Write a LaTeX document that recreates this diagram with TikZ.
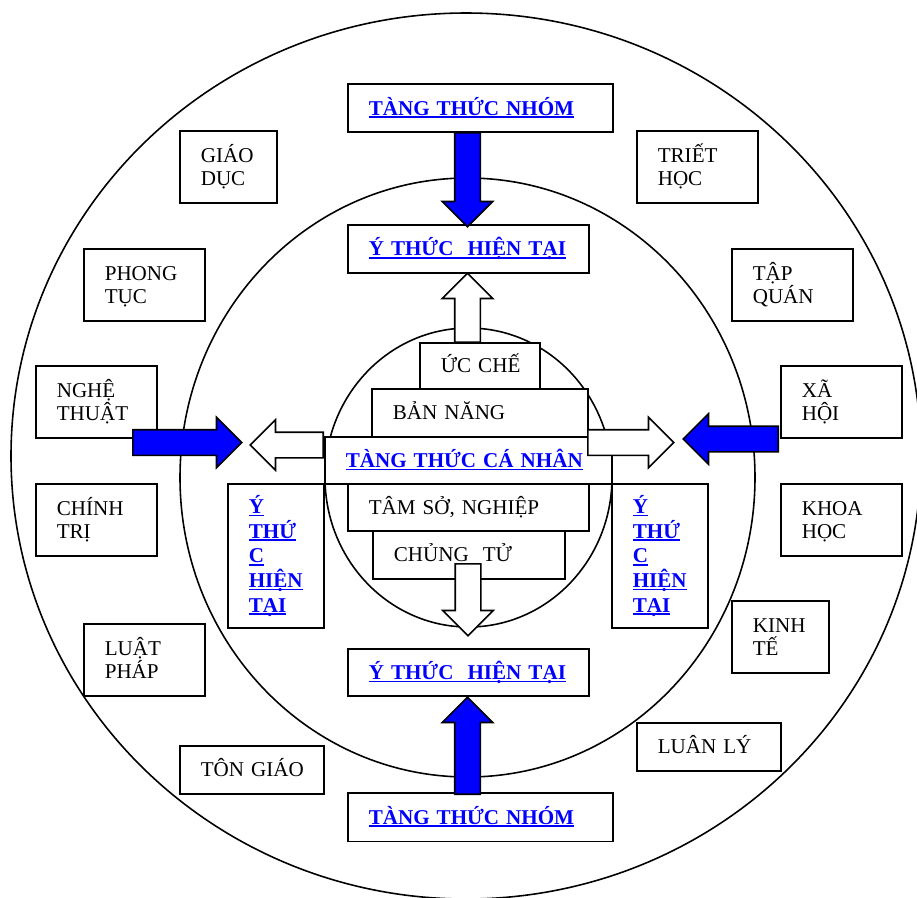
\documentclass[tikz,border=0pt]{standalone}
\usepackage{fontspec}
\setmainfont{Liberation Serif}
\usetikzlibrary{shapes.arrows}

\definecolor{lnkblue}{RGB}{0,0,255}
\newsavebox{\lnkbox}
% underlined link text
\newcommand{\ulbl}[1]{\leavevmode\sbox{\lnkbox}{#1}\rlap{\usebox{\lnkbox}}\rule[-1.6pt]{\wd\lnkbox}{0.9pt}}

\begin{document}
\begin{tikzpicture}[
		x=0.02cm, y=-0.02cm,
		ring/.style={line width=0.9pt},
		box/.style={draw, fill=white, line width=0.9pt, anchor=north west, inner xsep=0.42cm, inner ysep=0pt, align=left, font=\fontsize{12pt}{13pt}\selectfont, text height=8pt, text depth=0pt},
		two/.style={box, text depth=13pt, minimum height=1.44cm},
		sq/.style={two, text width=1.58cm},
		sqs/.style={two, text width=1.10cm},
		wide/.style={box, text width=2.04cm, minimum height=0.96cm},
		core/.style={box, minimum height=0.94cm},
		lnk/.style={box, text=lnkblue, font=\fontsize{12pt}{14pt}\selectfont\bfseries},
		grp/.style={lnk, text width=4.46cm, minimum height=0.97cm},
		cur/.style={lnk, text width=3.98cm, minimum height=0.96cm},
		vcur/.style={lnk, text width=1.08cm, minimum height=2.88cm, text depth=56pt},
		blk/.style={single arrow, draw, line width=0.9pt, anchor=tail, inner xsep=0pt, inner ysep=0.24cm, single arrow head extend=0.25cm},
		hot/.style={blk, fill=blue},
		cold/.style={blk, fill=white}
		]
		\clip (0,0) rectangle (917,897);
		
		% --- RINGS ---
		\draw[ring] (466,456) ellipse [x radius=455, y radius=443];
		\draw[ring] (467.5,477.5) ellipse [x radius=287.5, y radius=299.5];
		\draw[ring] (468.5,477.5) ellipse [x radius=143.5, y radius=149.5];
		
		% --- OUTER RING, LEFT ---
		\node[sqs] (giaoduc) at (179,130) {GIÁO\\DỤC};
		\node[sq] (phongtuc) at (83,248) {PHONG\\TỤC};
		\node[sq] (nghethuat) at (35,365) {NGHỆ\\THUẬT};
		\node[sq] (chinhtri) at (35,483) {CHÍNH\\TRỊ};
		\node[sq] (luatphap) at (83,623) {LUẬT\\PHÁP};
		\node[wide] (tongiao) at (179,745) {\mbox{TÔN GIÁO}};
		
		% --- OUTER RING, RIGHT ---
		\node[sq] (triethoc) at (636,130) {TRIẾT\\HỌC};
		\node[sq] (tapquan) at (731,248) {TẬP\\QUÁN};
		\node[sq] (xahoi) at (780,365) {XÃ\\HỘI};
		\node[sq] (khoahoc) at (780,483) {KHOA\\HỌC};
		\node[sqs] (kinhte) at (731,600) {KINH\\TẾ};
		\node[wide] (luanly) at (636,722) {\mbox{LUÂN LÝ}};
		
		% --- GROUP / PRESENT ---
		\node[grp] (nhomTop) at (347,83) {\ulbl{TÀNG THỨC NHÓM}};
		\node[cur] (ytTop) at (347,224) {\ulbl{Ý THỨC\ \ HIỆN TẠI}};
		\node[cur, minimum height=0.94cm] (ytBot) at (347,648) {\ulbl{Ý THỨC\ \ HIỆN TẠI}};
		\node[grp] (nhomBot) at (347,792) {\ulbl{TÀNG THỨC NHÓM}};
		\node[vcur] (ytLeft) at (227,483) {\ulbl{Ý}\\\ulbl{THỨ}\\\ulbl{C}\\\ulbl{HIỆN}\\\ulbl{TẠI}};
		\node[vcur] (ytRight) at (611,483) {\ulbl{Ý}\\\ulbl{THỨ}\\\ulbl{C}\\\ulbl{HIỆN}\\\ulbl{TẠI}};
		
		% --- CORE STACK ---
		\node[core, text width=1.56cm, minimum height=0.92cm] (ucche) at (419,342) {\mbox{ỨC CHẾ}};
		\node[core, text width=3.48cm, minimum height=0.96cm] (bannang) at (371,388) {\mbox{BẢN NĂNG}};
		\node[core, text width=3.98cm] (tamso) at (347,483) {\mbox{TÂM SỞ, NGHIỆP}};
		\node[core, text width=3.00cm, minimum height=0.96cm] (chungtu) at (372,530) {\mbox{CHỦNG\ \ TỬ}};
		\node[core, lnk, text width=4.90cm] (tangcn) at (324,436) {\ulbl{TÀNG THỨC CÁ NHÂN}};
		
		% --- BLOCK ARROWS ---
		\node[hot, rotate=-90, minimum height=1.88cm] (downIn) at (467.5,132) {};
		\node[cold, rotate=90, minimum height=1.38cm] (upOut) at (467.5,343) {};
		\node[cold, rotate=-90, minimum height=1.44cm] (downOut) at (468,563) {};
		\node[hot, rotate=90, minimum height=1.94cm] (upIn) at (467.5,795) {};
		\node[hot, minimum height=2.18cm] (leftIn) at (132,442.5) {};
		\node[cold, rotate=180, minimum height=1.46cm] (leftOut) at (324,445) {};
		\node[cold, minimum height=1.72cm] (rightOut) at (587,442.5) {};
		\node[hot, rotate=180, minimum height=1.90cm] (rightIn) at (779,439) {};
		
	\end{tikzpicture}
\end{document}
